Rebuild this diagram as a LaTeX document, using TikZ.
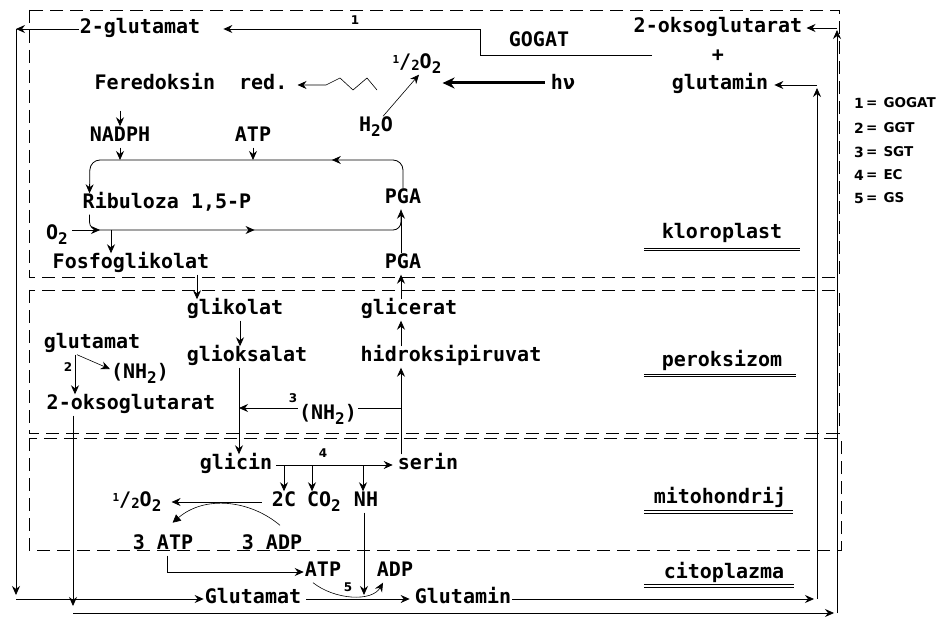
\documentclass[tikz,border=0pt]{standalone}
\usepackage{fontspec}
\setmonofont{DejaVu Sans Mono}
\newfontfamily\legfont{DejaVu Sans}
\usetikzlibrary{arrows.meta,decorations.markings,calc}
\newcommand\sub[1]{\raisebox{-5pt}{\fontsize{16}{16}\selectfont #1}}
\newcommand\halfox{\raisebox{5pt}{\fontsize{11}{11}\selectfont 1}/\raisebox{-2pt}{\fontsize{14}{14}\selectfont 2}}

\begin{document}
\begin{tikzpicture}[x=1pt,y=-1pt,
    lbl/.style={font=\ttfamily\bfseries\fontsize{20}{24}\selectfont, inner sep=1pt, text height=14pt, text depth=5pt},
    num/.style={font=\legfont\bfseries\fontsize{12}{12}\selectfont, inner sep=0pt},
    leg/.style={font=\legfont\bfseries\fontsize{13.5}{16}\selectfont, inner sep=0pt, anchor=west},
    region/.style={dash pattern=on 13pt off 7pt, line width=0.8pt},
    link/.style={line width=0.8pt},
    arr/.style={-{Stealth[length=9pt,width=8pt,inset=3pt]}, line width=0.8pt},
    uline/.style={double, double distance=1.8pt, line width=0.7pt},
    midarr/.style={postaction={decorate, decoration={markings,
        mark=at position #1 with {\arrow{Stealth[length=9pt,width=8pt,inset=3pt]}}}}}]
\useasboundingbox (0,0) rectangle (944,617);

% compartments
\draw[region] (29,10) rectangle (839,277);
\draw[region] (29,290) rectangle (839,433);
\draw[region] (29,438) rectangle (841,550);

% kloroplast
\node[lbl] (glutB) at (140,29) {2-glutamat};
\node[lbl] (oksoT) at (718,28) {2-oksoglutarat};
\node[lbl] (plusT) at (718,57) {+};
\node[lbl] (glutmT) at (720,85) {glutamin};
\node[lbl] (gogat) at (539,42) {GOGAT};
\node[num] (n1) at (355,20) {1};
\node[lbl] (fer) at (191,85) {Feredoksin\ \ red.};
\node[lbl] (halfT) at (417,64) {\halfox O\sub{2}};
\node[lbl] (hnu) at (563,85) {hν};
\node[lbl] (water) at (376,127) {H\sub{2}O};
\node[lbl] (nadph) at (120,137) {NADPH};
\node[lbl] (atpT) at (253,137) {ATP};
\node[lbl] (rib) at (167,204) {Ribuloza 1,5-P};
\node[lbl] (pgaA) at (403,199) {PGA};
\node[lbl] (o2) at (57,235) {O\sub{2}};
\node[lbl] (fosf) at (131,264) {Fosfoglikolat};
\node[lbl] (pgaB) at (403,264) {PGA};
\node[lbl] (klor) at (722,234) {kloroplast};

% peroksizom
\node[lbl] (glik) at (235,310) {glikolat};
\node[lbl] (glic) at (409,310) {glicerat};
\node[lbl] (glutP) at (92,344) {glutamat};
\node[lbl] (gliok) at (247,357) {glioksalat};
\node[lbl] (hidr) at (451,357) {hidroksipiruvat};
\node[lbl] (nhA) at (140,374) {(NH\sub{2})};
\node[num] (n2) at (68,367) {2};
\node[lbl] (oksoP) at (131,405) {2-oksoglutarat};
\node[lbl] (nhB) at (328,415) {(NH\sub{2})};
\node[num] (n3) at (293,398) {3};
\node[lbl] (perox) at (722,362) {peroksizom};

% mitohondrij
\node[lbl] (glicin) at (236,465) {glicin};
\node[lbl] (serin) at (428,465) {serin};
\node[num] (n4) at (323,453) {4};
\node[lbl] (twoC) at (284,502) {2C};
\node[lbl] (co2) at (324,502) {CO\sub{2}};
\node[lbl] (nh) at (366,502) {NH};
\node[lbl] (halfM) at (137,502) {\halfox O\sub{2}};
\node[lbl] (atp3) at (163,545) {3 ATP};
\node[lbl] (adp3) at (272,545) {3 ADP};
\node[lbl] (mito) at (720,499) {mitohondrij};

% citoplazma
\node[lbl] (atpC) at (323,572) {ATP};
\node[lbl] (adpC) at (395,572) {ADP};
\node[num] (n5) at (348,587) {5};
\node[lbl] (glutC) at (253,599) {Glutamat};
\node[lbl] (glutmC) at (463,599) {Glutamin};
\node[lbl] (cito) at (724,574) {citoplazma};

% underlines
\draw[uline] (644,249.5) -- (800,249.5);
\draw[uline] (644,375.5) -- (796,375.5);
\draw[uline] (644,512) -- (793,512);
\draw[uline] (644,586) -- (794,586);

% legend
\foreach \k/\t/\y in {1/GOGAT/103, 2/GGT/128, 3/SGT/152, 4/EC/175, 5/GS/198} {
  \node[num, font=\legfont\bfseries\fontsize{14}{14}\selectfont] (key\k) at (859,\y) {\k};
  \node[leg] (keytext\k) at (866,\y) {=\hspace{6pt}\t};
}

% outer transport routes
\coordinate (cTL) at (16,29);
\coordinate (cBL) at (16,599);
\coordinate (cOB) at (73,613);
\coordinate (cOR) at (837,613);
\coordinate (cOT) at (837,28);
\coordinate (cGB) at (817,599);
\coordinate (cGT) at (817,85);
\coordinate (gogR) at (652,55);
\coordinate (gogC) at (480,29);
\draw[arr] (glutB.west) -- (cTL);
\draw[arr] (cTL) -- ([yshift=4pt]cBL);
\draw[arr] (cBL) -- (glutC.west);
\draw[arr] ([xshift=-58pt]oksoP.south) -- ([yshift=7pt]cOB);
\draw[arr, shorten >=3pt] (cOB) -- (cOR);
\draw[arr] (cOR) -- ([yshift=-2pt]cOT);
\draw[arr, shorten >=3pt] (cOT) -- (oksoT.east);
\draw[arr, shorten >=3pt] (glutmC.east) -- (cGB);
\draw[arr] (cGB) -- ([yshift=-3pt]cGT);
\draw[arr, shorten >=5pt] (cGT) -- (glutmT.east);
\draw[arr, shorten >=22pt] (gogR) -| (gogC) -- (glutB.east);

% light reactions
\coordinate (zz) at (377,90);
\draw[arr, line width=0.6pt, shorten >=9pt] (zz) -- (367,78) -- (353,90) -- (340,78) -- (326,85) -- (fer.east);
\draw[-{Stealth[length=12pt,width=11pt]}, line width=3pt, shorten <=5pt] ([yshift=2pt]hnu.west) -- ([yshift=2pt]hnu.west -| halfT.east);
\draw[arr, line width=0.6pt] ([xshift=7pt]water.north) -- ([xshift=2pt]halfT.south);
\draw[arr, shorten <=15pt] (fer.south -| nadph) -- (nadph.north);

% Calvin cycle
\coordinate (ct) at (90,160);
\coordinate (cb) at (401,230);
\coordinate (o2t) at (100,230);
\draw[arr, rounded corners=10pt, midarr=0.26] (pgaA.north) |- (ct) -- ([xshift=8pt]rib.north west);
\draw[link, rounded corners=8pt, midarr=0.52] ([xshift=8pt]rib.south west) |- (cb) -- ([xshift=-2pt]pgaA.south);
\draw[arr] (nadph.south) -- (nadph.south |- ct);
\draw[arr] (atpT.south) -- (atpT.south |- ct);
\draw[arr, shorten <=3pt] (o2.east |- o2t) -- (o2t);
\draw[arr] ([xshift=-20pt]fosf.north |- cb) -- ([xshift=-20pt]fosf.north);
\draw[arr] ([xshift=-2pt]pgaB.north) -- ([xshift=-2pt]pgaA.south);

% photorespiration
\coordinate (gv) at ([xshift=-8pt]gliok.south);
\coordinate (sv) at ([xshift=-27pt]serin.north);
\draw[arr] ([xshift=66pt]fosf.south) -- ([xshift=66pt]fosf.south |- glik.north);
\draw[arr] ([xshift=-8pt]glic.north) -- ([xshift=-8pt]glic.north |- pgaB.south);
\draw[arr] ([xshift=5pt]glik.south) -- ([xshift=5pt]glik.south |- gliok.north);
\draw[arr] ([xshift=-50pt]hidr.north) -- ([xshift=-50pt]hidr.north |- glic.south);
\draw[arr] ([xshift=-17pt]glutP.south) -- ([xshift=-17pt]glutP.south |- oksoP.north);
\draw[arr, line width=0.6pt] ([xshift=-15pt]glutP.south) -- ([yshift=5pt]nhA.west);
\draw[arr] (gv) -- (gv |- glicin.north);
\draw[arr] (sv) -- (sv |- hidr.south);
\draw[arr] ([yshift=7pt]nhB.west) -- ([yshift=7pt]nhB.west -| gv);
\draw[link] ([yshift=7pt]nhB.east) -- ([yshift=7pt]nhB.east -| sv);
\draw[arr, shorten >=4pt, shorten <=3pt] (glicin.east) -- (serin.west);
\foreach \n/\s in {twoC/0pt, co2/-12pt, nh/-3pt}
  \draw[arr] ([xshift=\s]\n.north |- glicin.east) -- ([xshift=\s]\n.north);
\draw[arr, shorten <=9pt, shorten >=9pt] (twoC.west) -- (halfM.east);
\draw[-{Triangle[length=8pt,width=8pt]}, line width=0.6pt] ([xshift=8pt,yshift=9pt]adp3.north)
  .. controls (250,500) and (205,495) .. ([xshift=10pt,yshift=-10pt]halfM.south east);

% glutamin synthesis
\draw[arr] ([xshift=4pt]atp3.south) |- (atpC.west);
\draw[arr, shorten >=4pt] ([xshift=-2pt]nh.south) -- ([xshift=-2pt]nh.south |- glutC.east);
\draw[arr, shorten <=4pt, shorten >=4pt] (glutC.east) -- (glutmC.west);
\draw[arr, line width=0.6pt] ([xshift=-10pt]atpC.south) .. controls (335,600) and (372,602) .. ([xshift=-12pt]adpC.south);
\end{tikzpicture}
\end{document}
